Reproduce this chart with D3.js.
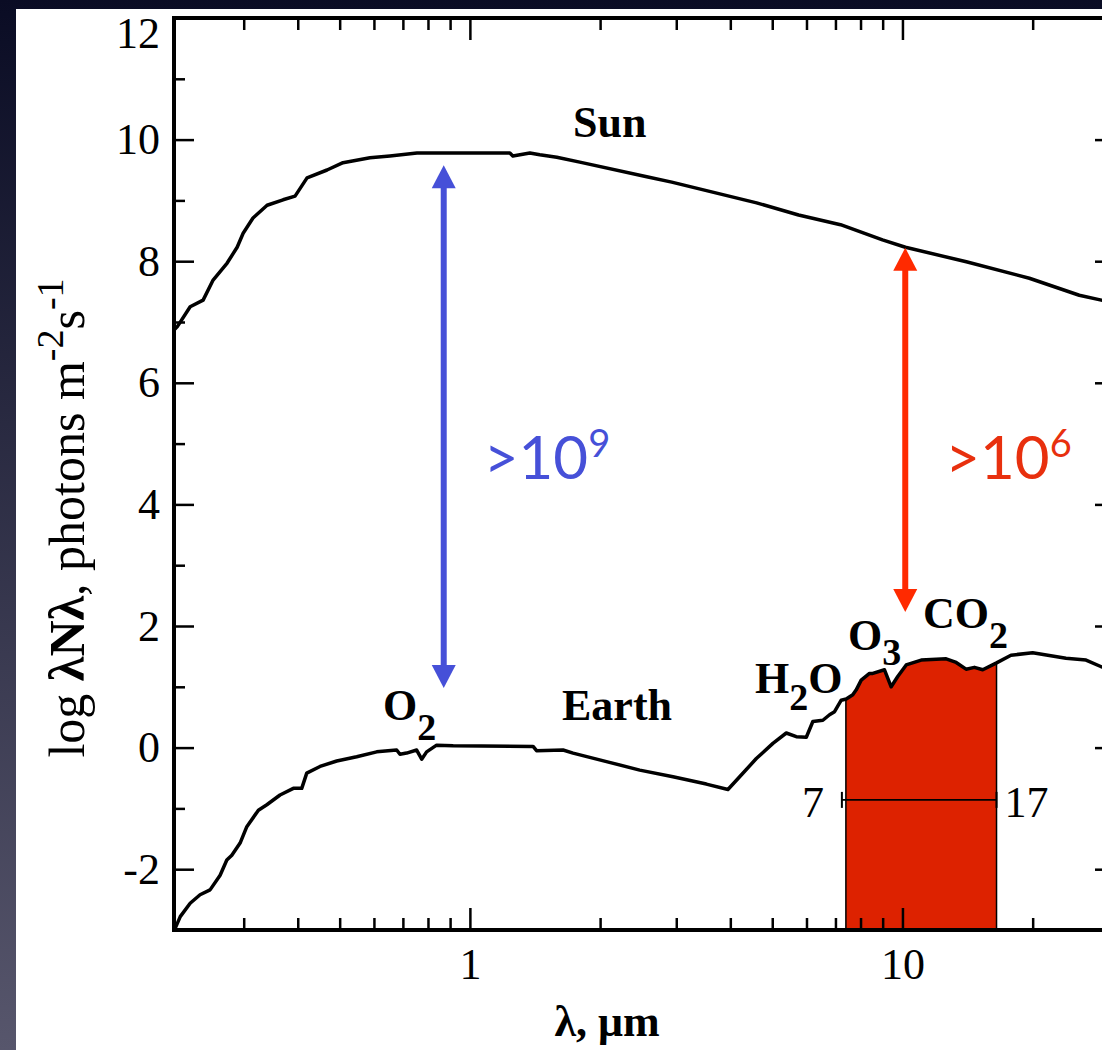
<!DOCTYPE html>
<html>
<head>
<meta charset="utf-8">
<script src="https://cdn.jsdelivr.net/npm/d3@7/dist/d3.min.js"></script>
<style>
  html, body { margin: 0; padding: 0; background: #0b0d26; }
  svg { display: block; }
  .tick text { font-family: "Liberation Serif", serif; font-size: 44px; fill: #000; }
  .lbl { font-family: "Liberation Serif", serif; font-size: 44px; fill: #000; }
  .big { font-family: Lato, "Open Sans", sans-serif; font-size: 60px; }
</style>
</head>
<body>
<svg id="chart" width="1102" height="1050"></svg>
<script>
// spectra: wavelength in um, log10 photon flux
var sunWave = [0.207, 0.2105, 0.2256, 0.2417, 0.2549, 0.2747, 0.2897, 0.2991, 0.3152, 0.3398, 0.3699, 0.3943,
  0.4203, 0.4675, 0.5089, 0.5875, 0.6533, 0.7545, 1.237, 1.257, 1.376, 1.451, 1.588, 1.795, 2.564, 2.928,
  4.601, 5.752, 7.193, 8.992, 10.16, 14.05, 19.65, 25.63, 28.82, 31];
var sunFlux = [6.87, 6.92, 7.25, 7.36, 7.69, 7.97, 8.23, 8.46, 8.71, 8.92, 9.01, 9.07,
  9.37, 9.50, 9.62, 9.70, 9.73, 9.78, 9.78, 9.73, 9.78, 9.75, 9.71, 9.63, 9.39, 9.30,
  8.96, 8.76, 8.60, 8.35, 8.23, 7.99, 7.72, 7.44, 7.36, 7.30];

var earthWave = [0.207, 0.2084, 0.214, 0.2256, 0.2378, 0.2508, 0.2646, 0.2742, 0.2816, 0.2943, 0.305, 0.3244,
  0.3393, 0.364, 0.3907, 0.4086, 0.4196, 0.4503, 0.4923, 0.5474, 0.6089, 0.6772, 0.6892, 0.7142, 0.7533,
  0.7737, 0.7943, 0.8377, 0.915, 1.40, 1.426, 1.642, 1.732, 2.069, 2.470, 2.948, 3.521, 3.950, 4.204,
  4.594, 5.018, 5.388, 5.683, 5.994, 6.207, 6.547, 6.784, 6.966, 7.219, 7.413, 7.677, 7.819, 8.029, 8.391,
  8.54, 9.088, 9.417, 9.752, 10.2, 11.05, 12.62, 13.31, 14.03, 14.67, 15.33, 16.46, 17.82, 20.0, 23.88,
  26.57, 28.82, 31];
var earthFlux = [-3.0, -2.97, -2.78, -2.56, -2.42, -2.34, -2.10, -1.85, -1.77, -1.57, -1.30, -1.03,
  -0.94, -0.78, -0.67, -0.67, -0.42, -0.31, -0.22, -0.15, -0.07, -0.04, -0.11, -0.09, -0.04,
  -0.19, -0.07, 0.04, 0.03, 0.02, -0.05, -0.04, -0.09, -0.23, -0.37, -0.48, -0.60, -0.69, -0.48,
  -0.18, 0.07, 0.24, 0.18, 0.17, 0.43, 0.45, 0.54, 0.59, 0.78, 0.80, 0.87, 0.95, 1.11, 1.22,
  1.22, 1.28, 1.00, 1.17, 1.36, 1.44, 1.46, 1.40, 1.29, 1.32, 1.28, 1.39, 1.52, 1.56, 1.47,
  1.44, 1.33, 1.25];

var xMajor = [1, 10];
var xMinor = [0.3, 0.4, 0.5, 0.6, 0.7, 0.8, 0.9, 2, 3, 4, 5, 6, 7, 8, 9, 20, 30];
var yMajor = [-2, 0, 2, 4, 6, 8, 10, 12];
var yMinor = [-1, 1, 3, 5, 7, 9, 11];

// atmospheric window
var bandWave = [7.4, 16.5];
var bandLabels = ['7', '17'];
var bandBarFlux = -0.86;

// sun / earth contrast arrows
var arrowWave = [0.87, 10.15];
var arrowTop = [9.58, 8.22];
var arrowBottom = [0.98, 2.23];
var arrowColor = ['#4650d8', '#ff2a00'];
var arrowTextColor = ['#4650d8', '#e8300e'];
var ratioExp = ['9', '6'];

var svg = d3.select('#chart');
var W = 1102, H = 1050;

var x = d3.scaleLog().domain([0.207, 31]).range([174, 1115]);
var y = d3.scaleLinear().domain([-3, 12]).range([930, 18]);

// background
var defs = svg.append('defs');
var grad = defs.append('linearGradient').attr('id', 'bg').attr('x1', 0).attr('y1', 0).attr('x2', 0).attr('y2', 1);
grad.append('stop').attr('offset', '0%').attr('stop-color', '#0a0c24');
grad.append('stop').attr('offset', '100%').attr('stop-color', '#57566c');
svg.append('rect').attr('width', W).attr('height', H).attr('fill', 'url(#bg)');
svg.append('rect').attr('x', 16).attr('y', 9).attr('width', W - 16).attr('height', H - 9).attr('fill', '#fff');

defs.append('clipPath').attr('id', 'plot')
  .append('rect').attr('x', 174).attr('y', 18).attr('width', 941).attr('height', 912);

var earth = earthWave.map((w, i) => [w, earthFlux[i]]);
var sun = sunWave.map((w, i) => [w, sunFlux[i]]);

var under = d3.area().x((d) => x(d[0])).y0(y(-3)).y1((d) => y(d[1]));
defs.append('clipPath').attr('id', 'under').append('path').attr('d', under(earth));

var plot = svg.append('g').attr('clip-path', 'url(#plot)');

// red band below earth curve
plot.append('g').attr('clip-path', 'url(#under)')
  .append('rect')
  .attr('x', x(bandWave[0]))
  .attr('y', y(12))
  .attr('width', x(bandWave[1]) - x(bandWave[0]))
  .attr('height', y(-3) - y(12))
  .attr('fill', '#dd2200')
  .attr('stroke', '#000')
  .attr('stroke-width', 1.5);

// error bar across band
var by = y(bandBarFlux);
plot.append('line').attr('x1', x(bandWave[0]) - 4).attr('x2', x(bandWave[1])).attr('y1', by).attr('y2', by)
  .attr('stroke', '#000').attr('stroke-width', 1.8);
[x(bandWave[0]) - 4, x(bandWave[1])].forEach((bx) => {
  plot.append('line').attr('x1', bx).attr('x2', bx).attr('y1', by - 8).attr('y2', by + 8)
    .attr('stroke', '#000').attr('stroke-width', 2);
});

var line = d3.line().x((d) => x(d[0])).y((d) => y(d[1]));
[sun, earth].forEach((s) => {
  plot.append('path').attr('d', line(s)).attr('fill', 'none').attr('stroke', '#000')
    .attr('stroke-width', 3.5).attr('stroke-linejoin', 'round');
});

// axes
function styleAxis(g) {
  g.select('.domain').remove();
  g.selectAll('.tick line').attr('stroke', '#000').attr('stroke-width', 2.5);
}
var plain = (d) => String(d);
svg.append('g').attr('transform', 'translate(0,930)')
  .call(d3.axisBottom(x).tickValues(xMajor).tickSize(-22).tickPadding(18).tickFormat(plain)).call(styleAxis);
svg.append('g').attr('transform', 'translate(0,930)')
  .call(d3.axisBottom(x).tickValues(xMinor).tickSize(-12).tickFormat('')).call(styleAxis);
svg.append('g').attr('transform', 'translate(0,18)')
  .call(d3.axisTop(x).tickValues(xMajor).tickSize(-22).tickFormat('')).call(styleAxis);
svg.append('g').attr('transform', 'translate(0,18)')
  .call(d3.axisTop(x).tickValues(xMinor).tickSize(-12).tickFormat('')).call(styleAxis);

var yl = svg.append('g').attr('transform', 'translate(174,0)')
  .call(d3.axisLeft(y).tickValues(yMajor).tickSize(-20).tickPadding(14).tickFormat(plain)).call(styleAxis);
yl.selectAll('.tick').filter((d) => d === 12).select('text').attr('y', 15);
svg.append('g').attr('transform', 'translate(174,0)')
  .call(d3.axisLeft(y).tickValues(yMinor).tickSize(-11).tickFormat('')).call(styleAxis);
svg.append('g').attr('transform', 'translate(1115,0)')
  .call(d3.axisRight(y).tickValues(yMajor).tickSize(-20).tickFormat('')).call(styleAxis);
svg.append('g').attr('transform', 'translate(1115,0)')
  .call(d3.axisRight(y).tickValues(yMinor).tickSize(-11).tickFormat('')).call(styleAxis);

svg.append('rect').attr('x', 174).attr('y', 18).attr('width', 941).attr('height', 912)
  .attr('fill', 'none').attr('stroke', '#000').attr('stroke-width', 4);

// axis titles
svg.append('text').attr('class', 'lbl').attr('x', 607).attr('y', 1036)
  .attr('text-anchor', 'middle').attr('font-weight', 'bold').text('λ, μm');

var yt = svg.append('text').attr('class', 'lbl').attr('transform', 'translate(84,518) rotate(-90)')
  .attr('text-anchor', 'middle').style('font-size', '50px');
yt.append('tspan').text('log ');
yt.append('tspan').attr('font-weight', 'bold').text('λNλ');
yt.append('tspan').text(', photons m');
yt.append('tspan').attr('dy', -21).style('font-size', '38px').text('-2');
yt.append('tspan').attr('dy', 21).text('s');
yt.append('tspan').attr('dy', -21).style('font-size', '38px').text('-1');

// curve labels
function chem(xp, yp, parts) {
  var t = svg.append('text').attr('class', 'lbl').attr('x', xp).attr('y', yp).attr('font-weight', 'bold');
  parts.forEach((p) => {
    var s = t.append('tspan').text(p[0]);
    if (p[1]) s.attr('dy', p[1]).style('font-size', p[2] || '44px');
  });
}
chem(573, 137, [['Sun']]);
chem(562, 720, [['Earth']]);
chem(383, 720, [['O'], ['2', 20, '38px']]);
chem(755, 693, [['H'], ['2', 17, '38px'], ['O', -17, '44px']]);
chem(848, 650, [['O'], ['3', 15, '38px']]);
chem(923, 628, [['CO'], ['2', 20, '38px']]);

svg.append('text').attr('class', 'lbl').attr('x', x(bandWave[0]) - 22).attr('y', by + 17)
  .attr('text-anchor', 'end').text(bandLabels[0]);
svg.append('text').attr('class', 'lbl').attr('x', x(bandWave[1]) + 8).attr('y', by + 17)
  .text(bandLabels[1]);

// arrows
arrowWave.forEach((w, i) => {
  var ax = x(w), t = y(arrowTop[i]), b = y(arrowBottom[i]);
  var g = svg.append('g').attr('fill', arrowColor[i]);
  g.append('line').attr('x1', ax).attr('x2', ax).attr('y1', t + 20).attr('y2', b - 20)
    .attr('stroke', arrowColor[i]).attr('stroke-width', 6);
  g.append('path').attr('d', `M${ax},${t}L${ax + 12},${t + 23}L${ax - 12},${t + 23}Z`);
  g.append('path').attr('d', `M${ax},${b}L${ax + 12},${b - 23}L${ax - 12},${b - 23}Z`);
  var tx = svg.append('text').attr('class', 'big').attr('x', ax + 40).attr('y', 479).attr('fill', arrowTextColor[i]);
  tx.append('tspan').text('>10');
  tx.append('tspan').attr('dy', -22).style('font-size', '38px').text(ratioExp[i]);
});
</script>
</body>
</html>
